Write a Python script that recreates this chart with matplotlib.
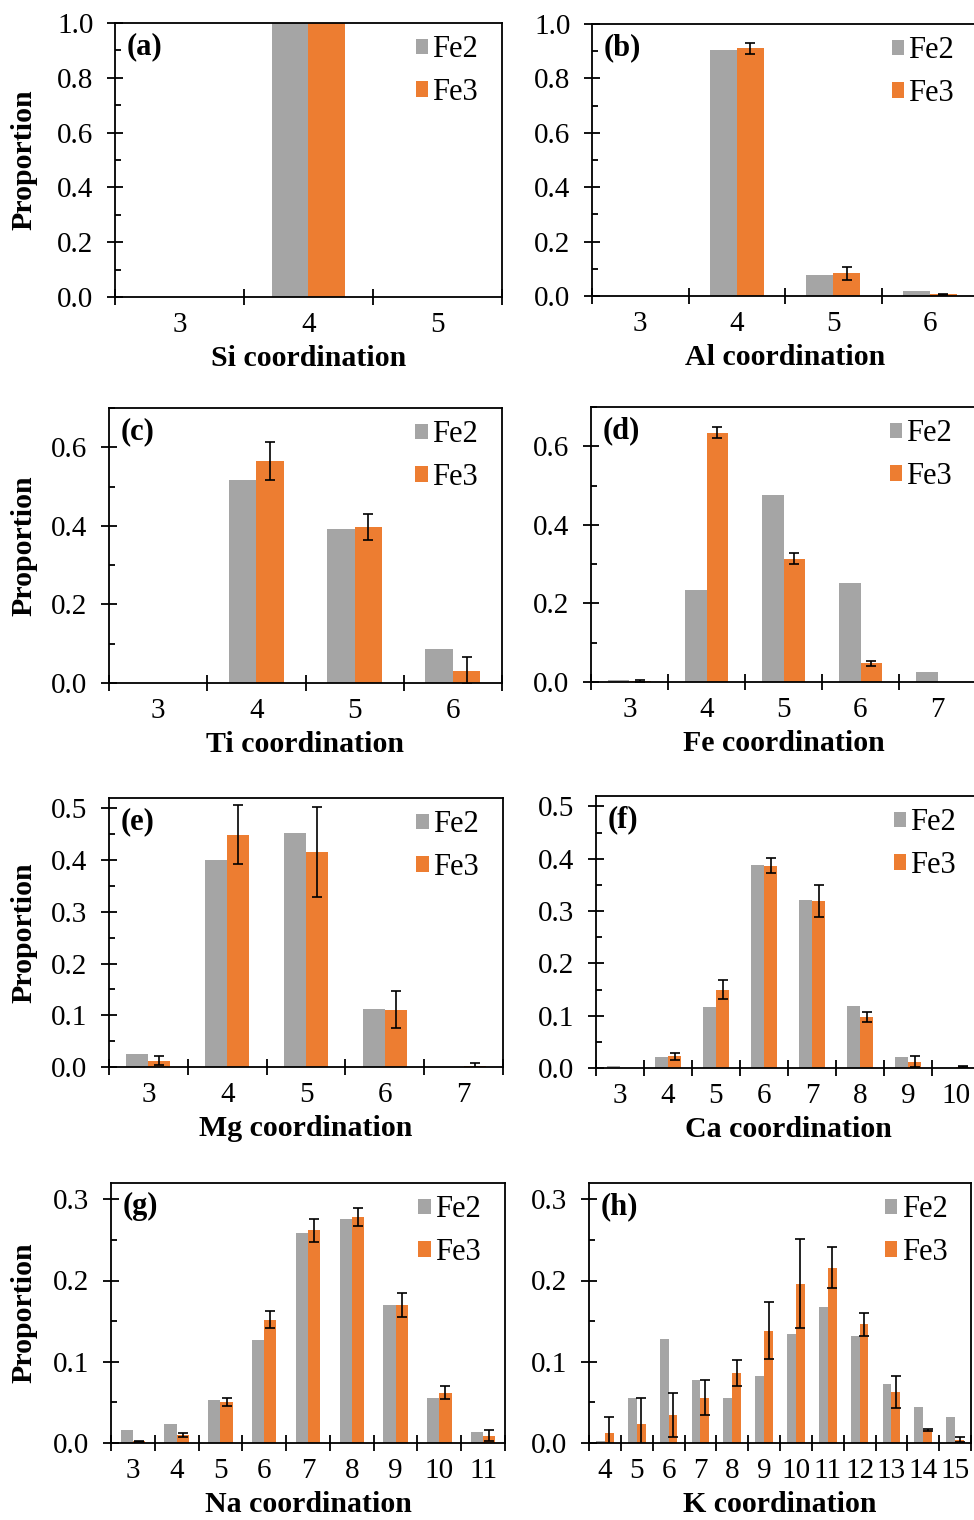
import numpy as np
import matplotlib
matplotlib.use("Agg")
import matplotlib.pyplot as plt
from matplotlib.ticker import MultipleLocator, FixedLocator, FormatStrFormatter

nan = np.nan

# dados
si_cats = [3, 4, 5]
si_fe2 = [0.0, 1.0, 0.0]
si_fe3 = [0.0, 1.0, 0.0]
si_err = [nan, nan, nan]

al_cats = [3, 4, 5, 6]
al_fe2 = [0.0, 0.906, 0.076, 0.019]
al_fe3 = [0.0, 0.910, 0.083, 0.007]
al_err = [nan, 0.021, 0.024, 0.002]

ti_cats = [3, 4, 5, 6]
ti_fe2 = [0.0, 0.517, 0.393, 0.086]
ti_fe3 = [0.0, 0.565, 0.398, 0.031]
ti_err = [nan, 0.049, 0.033, 0.034]

fe_cats = [3, 4, 5, 6, 7]
fe_fe2 = [0.004, 0.235, 0.475, 0.253, 0.026]
fe_fe3 = [0.003, 0.634, 0.314, 0.048, 0.0]
fe_err = [0.002, 0.014, 0.014, 0.006, nan]

mg_cats = [3, 4, 5, 6, 7]
mg_fe2 = [0.026, 0.400, 0.453, 0.113, 0.0]
mg_fe3 = [0.012, 0.449, 0.416, 0.111, 0.002]
mg_err = [0.009, 0.057, 0.087, 0.036, 0.005]

ca_cats = [3, 4, 5, 6, 7, 8, 9, 10]
ca_fe2 = [0.003, 0.021, 0.116, 0.389, 0.321, 0.118, 0.021, 0.0]
ca_fe3 = [0.0, 0.022, 0.150, 0.387, 0.319, 0.098, 0.012, 0.002]
ca_err = [nan, 0.0075, 0.019, 0.015, 0.031, 0.010, 0.010, 0.001]

na_cats = [3, 4, 5, 6, 7, 8, 9, 10, 11]
na_fe2 = [0.016, 0.024, 0.053, 0.127, 0.259, 0.276, 0.170, 0.055, 0.014]
na_fe3 = [0.002, 0.010, 0.050, 0.152, 0.262, 0.278, 0.170, 0.062, 0.009]
na_err = [0.001, 0.002, 0.005, 0.010, 0.014, 0.011, 0.015, 0.008, 0.007]

k_cats = [4, 5, 6, 7, 8, 9, 10, 11, 12, 13, 14, 15]
k_fe2 = [0.003, 0.055, 0.128, 0.078, 0.056, 0.082, 0.134, 0.168, 0.132, 0.073, 0.044, 0.032]
k_fe3 = [0.012, 0.024, 0.034, 0.056, 0.086, 0.138, 0.196, 0.216, 0.146, 0.063, 0.016, 0.004]
k_err = [0.020, 0.031, 0.027, 0.021, 0.016, 0.035, 0.055, 0.025, 0.014, 0.020, 0.001, 0.003]

plt.rcParams["font.family"] = ["Liberation Serif", "DejaVu Serif"]
plt.rcParams["font.size"] = 21

W, H = 974, 1520
fig = plt.figure(figsize=(W / 100, H / 100), dpi=100)

GRAY = "#A5A5A5"
ORANGE = "#ED7D31"

# (label, elemento, cats, fe2, fe3, err, ymax, minor, major, caixa em pixels: esq, dir, topo, base)
paineis = [
    ("(a)", "Si", si_cats, si_fe2, si_fe3, si_err, 1.0, 0.1, 0.2, (115, 502, 23, 297)),
    ("(b)", "Al", al_cats, al_fe2, al_fe3, al_err, 1.0, 0.1, 0.2, (592, 978, 24, 296)),
    ("(c)", "Ti", ti_cats, ti_fe2, ti_fe3, ti_err, 0.7, 0.1, 0.2, (109, 502, 408, 683)),
    ("(d)", "Fe", fe_cats, fe_fe2, fe_fe3, fe_err, 0.7, 0.1, 0.2, (591, 976, 407, 682)),
    ("(e)", "Mg", mg_cats, mg_fe2, mg_fe3, mg_err, 0.52, 0.05, 0.1, (109, 503, 798, 1067)),
    ("(f)", "Ca", ca_cats, ca_fe2, ca_fe3, ca_err, 0.52, 0.05, 0.1, (596, 980, 796, 1068)),
    ("(g)", "Na", na_cats, na_fe2, na_fe3, na_err, 0.32, 0.05, 0.1, (111, 505, 1183, 1443)),
    ("(h)", "K", k_cats, k_fe2, k_fe3, k_err, 0.32, 0.05, 0.1, (589, 971, 1183, 1443)),
]

largura = 0.28

for i, (lab, el, cats, y2, y3, err, ymax, minor, major, box) in enumerate(paineis):
    l, r, t, b = box
    ax = fig.add_axes([l / W, 1 - b / H, (r - l) / W, (b - t) / H])
    x = np.array(cats, dtype=float)
    b2 = ax.bar(x - largura / 2, y2, width=largura, color=GRAY, label="Fe2")
    b3 = ax.bar(x + largura / 2, y3, width=largura, color=ORANGE, label="Fe3")
    ax.errorbar(x + largura / 2, y3, yerr=err, fmt="none", ecolor="black",
                elinewidth=1.2, capsize=3.8, capthick=1.2)

    ax.set_xlim(cats[0] - 0.5, cats[-1] + 0.5)
    ax.set_ylim(0, ymax)

    ax.xaxis.set_major_locator(FixedLocator(cats))
    ax.xaxis.set_minor_locator(FixedLocator(np.arange(cats[0] - 0.5, cats[-1] + 1.0, 1.0)))
    ax.tick_params(axis="x", which="major", length=0, pad=11)
    ax.tick_params(axis="x", which="minor", direction="inout", length=11, width=1.3)

    ax.yaxis.set_major_locator(MultipleLocator(major))
    ax.yaxis.set_minor_locator(MultipleLocator(minor))
    ax.yaxis.set_major_formatter(FormatStrFormatter("%.1f"))
    ax.tick_params(axis="y", which="major", direction="inout", length=11, width=1.3, pad=10)
    ax.tick_params(axis="y", which="minor", direction="in", length=4.5, width=1.3)

    for s in ax.spines.values():
        s.set_linewidth(1.3)

    ax.set_xlabel(el + " coordination", fontweight="bold", fontsize=21.5, labelpad=5)
    if i % 2 == 0:
        ax.set_ylabel("Proportion", fontweight="bold", fontsize=21.5)
        ax.yaxis.set_label_coords((37 - l) / (r - l), 0.5)

    ax.text(0.03, 0.965, lab, transform=ax.transAxes, ha="left", va="top",
            fontweight="bold", fontsize=22)
    ax.legend(handles=[b2, b3], loc="upper right", frameon=False, fontsize=22,
              bbox_to_anchor=(0.97, 1.0), borderaxespad=0.0,
              handlelength=0.4, handleheight=0.4, handletextpad=0.15,
              labelspacing=0.45)

fig.savefig("out.png", dpi=100)
